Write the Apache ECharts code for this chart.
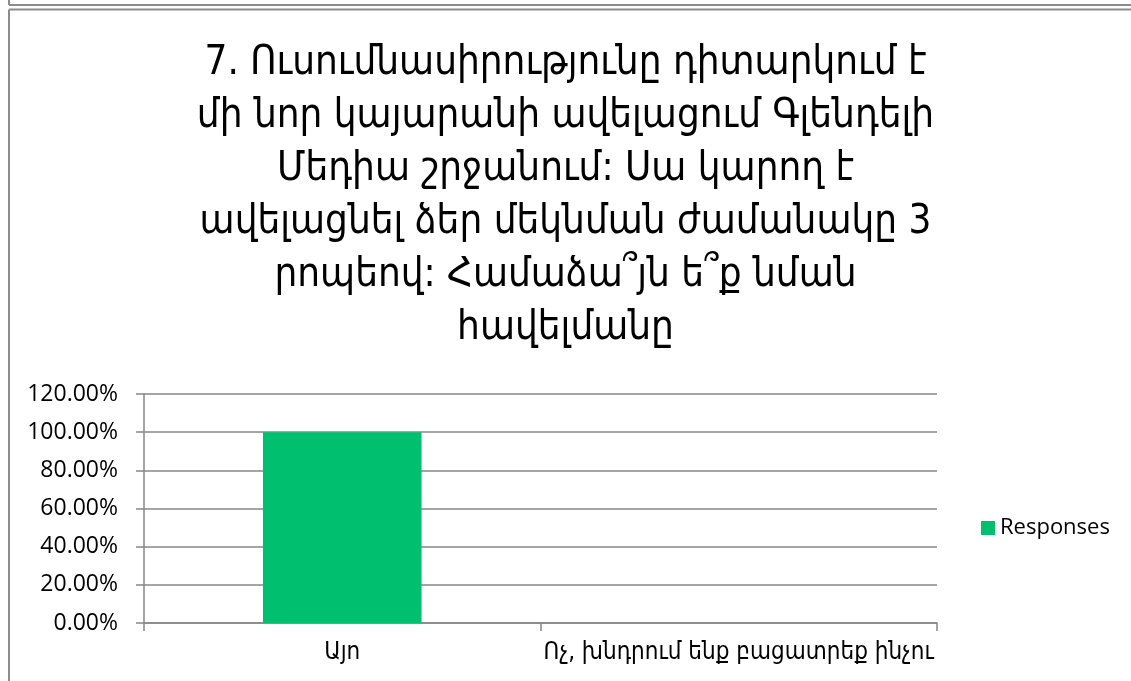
<!DOCTYPE html>
<html>
<head>
<meta charset="utf-8">
<title>Survey question 7</title>
<script src="https://cdn.jsdelivr.net/npm/echarts@6/dist/echarts.min.js"></script>
<style>
  html, body { margin: 0; padding: 0; background: #ffffff; }
  #chart { width: 1131px; height: 681px; }
</style>
</head>
<body>
<div id="chart"></div>
<script>
// Question text, one string per printed line
const titleLines = [
  '7. Ուսումնասիրությունը դիտարկում է',
  'մի նոր կայարանի ավելացում Գլենդելի',
  'Մեդիա շրջանում: Սա կարող է',
  'ավելացնել ձեր մեկնման ժամանակը 3',
  'րոպեով: Համաձա՞յն ե՞ք նման',
  'հավելմանը'
];

// Answer options and share of responses
const categories = ['Այո', 'Ոչ, խնդրում ենք բացատրեք ինչու'];
const responses = [1.0, 0.0];
const seriesName = 'Responses';

// Value axis range
const axisMin = 0;
const axisMax = 1.2;
const axisStep = 0.2;

const LINE = '#878787';
const FONT = '"Open Sans", "DejaVu Sans", sans-serif';
const ARM_FONT = '"DejaVu Sans Condensed", "DejaVu Sans", sans-serif';

const chart = echarts.init(document.getElementById('chart'), null, { renderer: 'canvas' });

chart.setOption({
  backgroundColor: '#ffffff',
  animation: false,
  title: {
    text: titleLines.join('\n'),
    left: 'center',
    top: 37,
    padding: 0,
    textStyle: {
      fontFamily: ARM_FONT,
      fontSize: 40,
      fontWeight: 'normal',
      lineHeight: 53,
      color: '#000000'
    }
  },
  legend: {
    data: [seriesName],
    orient: 'vertical',
    left: 981,
    top: 517,
    padding: 0,
    itemWidth: 14,
    itemHeight: 14,
    itemGap: 8,
    icon: 'rect',
    textStyle: { fontFamily: FONT, fontSize: 22, color: '#000000' }
  },
  grid: { left: 144, right: 194, top: 394, bottom: 58 },
  xAxis: {
    type: 'category',
    data: categories,
    boundaryGap: true,
    axisLine: { show: true, lineStyle: { color: LINE, width: 1.5 } },
    axisTick: { show: true, length: 8, lineStyle: { color: LINE, width: 1.5 } },
    axisLabel: { interval: 0, fontFamily: ARM_FONT, fontSize: 24, color: '#000000', margin: 18 },
    splitLine: { show: false }
  },
  yAxis: {
    type: 'value',
    min: axisMin,
    max: axisMax,
    interval: axisStep,
    axisLine: { show: true, lineStyle: { color: LINE, width: 1.5 } },
    axisTick: { show: true, length: 8, lineStyle: { color: LINE, width: 1.5 } },
    axisLabel: {
      fontFamily: FONT,
      fontSize: 23,
      color: '#000000',
      margin: 26,
      formatter: v => (v * 100).toFixed(2) + '%'
    },
    splitLine: { show: true, lineStyle: { color: LINE, width: 1.5 } }
  },
  series: [{
    name: seriesName,
    type: 'bar',
    data: responses,
    barWidth: '40%',
    itemStyle: { color: '#00BF6F' }
  }],
  graphic: [
    // frame of the chart area and edge of the box above it
    { type: 'line', shape: { x1: 9, y1: 5, x2: 1131, y2: 5 }, style: { stroke: '#8c8c8c', lineWidth: 2 } },
    { type: 'line', shape: { x1: 9, y1: 0, x2: 9, y2: 5 }, style: { stroke: '#8c8c8c', lineWidth: 2 } },
    { type: 'line', shape: { x1: 9, y1: 9.5, x2: 1131, y2: 9.5 }, style: { stroke: '#8c8c8c', lineWidth: 2 } },
    { type: 'line', shape: { x1: 9, y1: 9.5, x2: 9, y2: 681 }, style: { stroke: '#8c8c8c', lineWidth: 2 } }
  ]
});
</script>
</body>
</html>
